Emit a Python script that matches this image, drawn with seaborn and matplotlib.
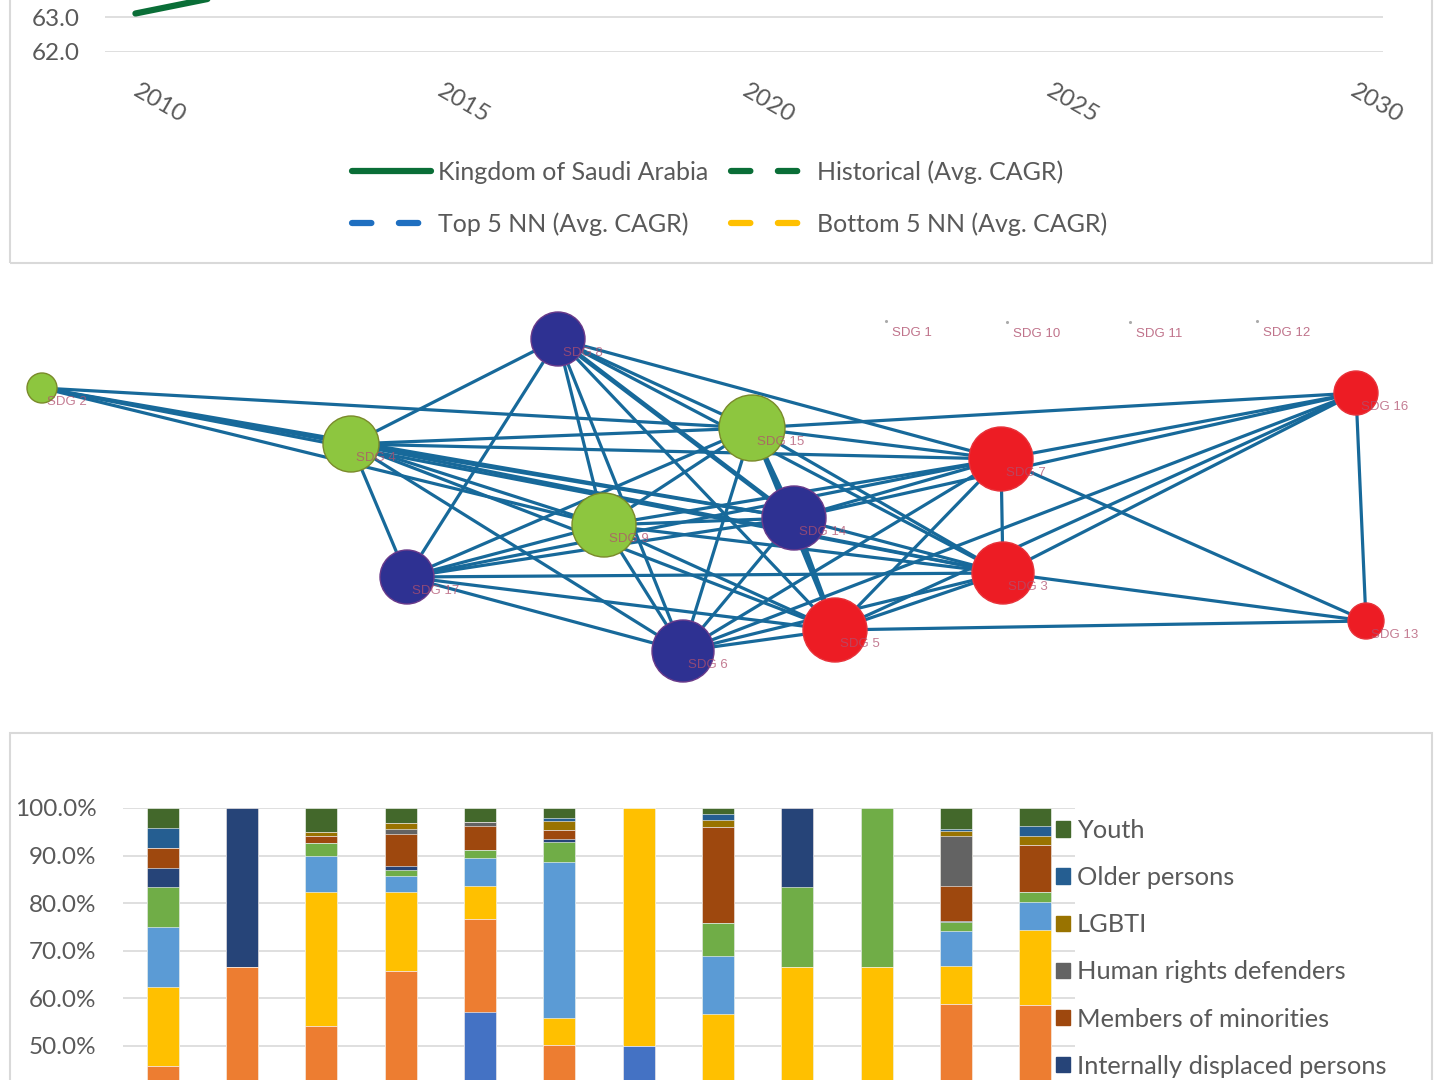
import matplotlib
matplotlib.use("Agg")
import matplotlib.pyplot as plt
import matplotlib.patches as mpatches
from matplotlib.lines import Line2D
from matplotlib.ticker import FuncFormatter
from matplotlib.transforms import ScaledTranslation
import numpy as np
import pandas as pd
import seaborn as sns

W, H = 1444, 1080

# ---- datos: panel superior (linea) ----
ksa_years = [2010, 2011, 2012]
ksa_values = [63.1, 63.45, 63.8]
top_yticks = [62.0, 63.0]
top_xticks = [2010, 2015, 2020, 2025, 2030]
top_legend = ["Kingdom of Saudi Arabia", "Top 5 NN (Avg. CAGR)",
              "Historical (Avg. CAGR)", "Bottom 5 NN (Avg. CAGR)"]

# ---- datos: red de ODS ----
node_names = ["SDG 2", "SDG 4", "SDG 17", "SDG 8", "SDG 15", "SDG 9", "SDG 14",
              "SDG 6", "SDG 5", "SDG 7", "SDG 3", "SDG 16", "SDG 13"]
node_x = [42, 351, 407, 558, 752, 604, 794, 683, 835, 1001, 1003, 1356, 1366]
node_y = [388, 444, 577, 339, 428, 525, 518, 651, 630, 459, 573, 393, 621]
node_radius = [15, 28, 27, 27, 33, 32, 32, 31, 32, 32, 31, 22, 18]
node_group = ["green", "green", "blue", "blue", "green", "green", "blue",
              "blue", "red", "red", "red", "red", "red"]
isolated_names = ["SDG 1", "SDG 10", "SDG 11", "SDG 12"]
isolated_x = [886, 1007, 1130, 1257]
isolated_y = [321, 322, 322, 321]
edges = [
    ("SDG 2", "SDG 15"), ("SDG 2", "SDG 4"), ("SDG 2", "SDG 14"), ("SDG 2", "SDG 3"), ("SDG 2", "SDG 9"),
    ("SDG 8", "SDG 4"), ("SDG 8", "SDG 17"), ("SDG 8", "SDG 9"), ("SDG 8", "SDG 6"), ("SDG 8", "SDG 15"),
    ("SDG 8", "SDG 14"), ("SDG 8", "SDG 5"), ("SDG 8", "SDG 7"), ("SDG 8", "SDG 3"),
    ("SDG 4", "SDG 15"), ("SDG 4", "SDG 9"), ("SDG 4", "SDG 14"), ("SDG 4", "SDG 7"), ("SDG 4", "SDG 3"),
    ("SDG 4", "SDG 5"), ("SDG 4", "SDG 6"), ("SDG 4", "SDG 17"),
    ("SDG 17", "SDG 9"), ("SDG 17", "SDG 15"), ("SDG 17", "SDG 14"), ("SDG 17", "SDG 7"),
    ("SDG 17", "SDG 3"), ("SDG 17", "SDG 5"), ("SDG 17", "SDG 6"),
    ("SDG 15", "SDG 9"), ("SDG 15", "SDG 14"), ("SDG 15", "SDG 6"), ("SDG 15", "SDG 5"),
    ("SDG 15", "SDG 7"), ("SDG 15", "SDG 3"), ("SDG 15", "SDG 16"),
    ("SDG 9", "SDG 14"), ("SDG 9", "SDG 6"), ("SDG 9", "SDG 5"), ("SDG 9", "SDG 7"), ("SDG 9", "SDG 3"),
    ("SDG 14", "SDG 6"), ("SDG 14", "SDG 5"), ("SDG 14", "SDG 7"), ("SDG 14", "SDG 3"), ("SDG 14", "SDG 16"),
    ("SDG 6", "SDG 5"), ("SDG 6", "SDG 7"), ("SDG 6", "SDG 3"), ("SDG 6", "SDG 16"),
    ("SDG 5", "SDG 7"), ("SDG 5", "SDG 3"), ("SDG 5", "SDG 13"), ("SDG 5", "SDG 16"),
    ("SDG 7", "SDG 3"), ("SDG 7", "SDG 13"), ("SDG 7", "SDG 16"),
    ("SDG 3", "SDG 13"), ("SDG 3", "SDG 16"), ("SDG 16", "SDG 13"),
]
thick_edges = [("SDG 15", "SDG 14"), ("SDG 14", "SDG 5"), ("SDG 8", "SDG 14")]

# ---- datos: barras apiladas (porcentaje, de abajo hacia arriba) ----
bar_categories = [str(i) for i in range(1, 13)]
series_names = ["Persons living in poverty", "Women & girls", "Persons with disabilities",
                "Children", "Migrants", "Persons living in rural areas",
                "Internally displaced persons", "Members of minorities",
                "Human rights defenders", "LGBTI", "Older persons", "Youth"]
s_blue = [0, 0, 0, 0, 57.2, 0, 50.0, 0, 0, 0, 0, 0]
s_orange = [45.8, 66.7, 54.2, 65.8, 19.5, 50.2, 0, 0, 0, 0, 58.9, 58.6]
s_gray = [0, 0, 0, 0, 0, 0, 0, 0, 0, 0, 0, 0]
s_yellow = [16.7, 0, 28.2, 16.6, 7.0, 5.6, 50.0, 56.7, 66.7, 66.7, 8.0, 15.8]
s_lightblue = [12.4, 0, 7.5, 3.4, 5.8, 32.8, 0, 12.3, 0, 0, 7.2, 5.9]
s_green = [8.5, 0, 2.7, 1.1, 1.7, 4.2, 0, 6.8, 16.6, 33.3, 1.9, 2.0]
s_idp = [4.0, 33.3, 0, 0.9, 0, 0.7, 0, 0, 16.7, 0, 0.3, 0]
s_minorities = [4.2, 0, 1.5, 6.8, 5.1, 1.8, 0, 20.2, 0, 0, 7.3, 10.0]
s_hrd = [0, 0, 0, 1.0, 0.8, 0, 0, 0, 0, 0, 10.6, 0]
s_lgbti = [0, 0, 0.9, 1.3, 0, 1.9, 0, 1.4, 0, 0, 0.9, 1.9]
s_older = [4.2, 0, 0, 0, 0, 0.7, 0, 1.4, 0, 0, 0.5, 2.0]
s_youth = [4.2, 0, 5.0, 3.1, 2.9, 2.1, 0, 1.2, 0, 0, 4.4, 3.8]
bar_yticks = [0.5, 0.6, 0.7, 0.8, 0.9, 1.0]

series_colors = ["#4472C4", "#ED7D31", "#A5A5A5", "#FFC000", "#5B9BD5", "#70AD47",
                 "#264478", "#9E480E", "#636363", "#997300", "#255E91", "#43682B"]

sns.set_theme(style="white")
plt.rcParams['font.family'] = ['Lato', 'DejaVu Sans']
TXT = "#595959"
GRID = "#d9d9d9"

fig = plt.figure(figsize=(W / 100, H / 100), dpi=100)
fig.patch.set_facecolor("white")

# === PANEL SUPERIOR ===
ax_top = fig.add_axes([105 / W, 1 - 52 / H, (1383 - 105) / W, 350 / H])
sns.lineplot(x=ksa_years, y=ksa_values, ax=ax_top, color="#0a6e37", lw=4.5,
             solid_capstyle="round")
ax_top.set_xlim(2009.5, 2030.5)
ax_top.set_ylim(62, 72)
ax_top.set_yticks(top_yticks)
ax_top.yaxis.set_major_formatter(FuncFormatter(lambda v, p: f"{v:.1f}"))
ax_top.set_xticks(top_xticks)
ax_top.set_xticklabels([str(t) for t in top_xticks], rotation=-30, ha="left",
                       va="top", rotation_mode="anchor")
ax_top.tick_params(axis="x", length=0, pad=20, labelsize=17.5, labelcolor=TXT)
ax_top.tick_params(axis="y", length=0, pad=18, labelsize=17.5, labelcolor=TXT)
shift = ScaledTranslation(5 / 100, 0, fig.dpi_scale_trans)
for lbl in ax_top.get_xticklabels():
    lbl.set_transform(lbl.get_transform() + shift)
ax_top.grid(axis="y", color=GRID, lw=1.2)
ax_top.set_axisbelow(True)
for s in ax_top.spines.values():
    s.set_visible(False)

fig.add_artist(mpatches.Rectangle((10 / W, (H - 263) / H), 1422 / W, 1.0,
                                  transform=fig.transFigure, fill=False,
                                  ec=GRID, lw=1.5))

top_handles = [
    Line2D([], [], color="#0a6e37", lw=4.5, solid_capstyle="round"),
    Line2D([], [], color="#1f6fc0", lw=4.5, dashes=(3.1, 4.4), dash_capstyle="round"),
    Line2D([], [], color="#0a6e37", lw=4.5, dashes=(3.1, 4.4), dash_capstyle="round"),
    Line2D([], [], color="#FFC000", lw=4.5, dashes=(3.1, 4.4), dash_capstyle="round"),
]
leg_top = fig.legend(top_handles, top_legend, ncol=2, loc="center",
                     bbox_to_anchor=(730 / W, 1 - 198 / H), frameon=False,
                     fontsize=18, handlelength=3.15, handletextpad=0.3,
                     columnspacing=0.9, labelspacing=1.15)
for t in leg_top.get_texts():
    t.set_color(TXT)

# === PANEL CENTRAL: RED ===
ax_net = fig.add_axes([0, 1 - 700 / H, 1, 410 / H])
ax_net.set_xlim(0, W)
ax_net.set_ylim(700, 290)
ax_net.axis("off")

pos = {n: (x, y) for n, x, y in zip(node_names, node_x, node_y)}
for a, b in edges:
    lw = 3.4 if (a, b) in thick_edges else 2.3
    ax_net.plot([pos[a][0], pos[b][0]], [pos[a][1], pos[b][1]],
                color="#17699a", lw=lw, zorder=1, solid_capstyle="round")

group_face = {"green": "#8dc63f", "blue": "#2e3192", "red": "#ed1c24"}
group_edge = {"green": "#7a8a2a", "blue": "#6a3a8a", "red": "#e8323a"}
nodes = pd.DataFrame({"x": node_x, "y": node_y, "r": node_radius, "g": node_group})
nodes["s"] = (nodes["r"] * 2 * 0.72) ** 2
for g, sub in nodes.groupby("g"):
    ax_net.scatter(sub["x"], sub["y"], s=sub["s"], color=group_face[g],
                   edgecolors=group_edge[g], linewidths=1.0, zorder=2)

for n, x, y in zip(node_names, node_x, node_y):
    ax_net.text(x + 5, y + 14, n, fontsize=9.5, color="#b0506e", alpha=0.75,
                family="Liberation Sans", ha="left", va="center", zorder=3)
ax_net.scatter(isolated_x, isolated_y, s=1.5, color="#aaaaaa", zorder=2)
for n, x, y in zip(isolated_names, isolated_x, isolated_y):
    ax_net.text(x + 6, y + 12, n, fontsize=9.5, color="#b0506e", alpha=0.8,
                family="Liberation Sans", ha="left", va="center", zorder=3)

# === PANEL INFERIOR: BARRAS APILADAS ===
ax_bar = fig.add_axes([123 / W, (H - 1284) / H, (1075 - 123) / W, 476 / H])
all_series = [s_blue, s_orange, s_gray, s_yellow, s_lightblue, s_green, s_idp,
              s_minorities, s_hrd, s_lgbti, s_older, s_youth]
cum = np.cumsum(np.array(all_series, dtype=float), axis=0) / 100.0
for k in range(len(all_series) - 1, -1, -1):
    df = pd.DataFrame({"cat": bar_categories, "val": cum[k]})
    sns.barplot(data=df, x="cat", y="val", ax=ax_bar, color=series_colors[k],
                saturation=1, width=0.4, edgecolor="white", linewidth=0.4)
ax_bar.set_ylim(0, 1.0)
ax_bar.set_xlim(-0.5, 11.5)
ax_bar.set_yticks(bar_yticks)
ax_bar.yaxis.set_major_formatter(FuncFormatter(lambda v, p: f"{v * 100:.1f}%"))
ax_bar.tick_params(axis="y", length=0, pad=19, labelsize=17.5, labelcolor=TXT)
ax_bar.set_xticklabels([])
ax_bar.tick_params(axis="x", length=0)
ax_bar.set_xlabel("")
ax_bar.set_ylabel("")
ax_bar.grid(axis="y", color=GRID, lw=1.2)
ax_bar.set_axisbelow(True)
for s in ax_bar.spines.values():
    s.set_visible(False)

fig.add_artist(mpatches.Rectangle((10 / W, -0.5), 1422 / W, 0.5 + (H - 733) / H,
                                  transform=fig.transFigure, fill=False,
                                  ec=GRID, lw=1.5))

# solo las entradas de la leyenda que caben en la imagen
n_vis = 6
bar_handles = [mpatches.Patch(color=c) for c in series_colors][::-1][:n_vis]
bar_labels = series_names[::-1][:n_vis]
leg_bar = fig.legend(bar_handles, bar_labels, loc="upper left",
                     bbox_to_anchor=(1056 / W, 1 - 819 / H), frameon=False,
                     fontsize=18.3, handlelength=0.55, handleheight=0.55,
                     handletextpad=0.28, labelspacing=0.95, borderpad=0,
                     borderaxespad=0)
for t in leg_bar.get_texts():
    t.set_color(TXT)

fig.savefig("out.png", dpi=100, facecolor="white")
